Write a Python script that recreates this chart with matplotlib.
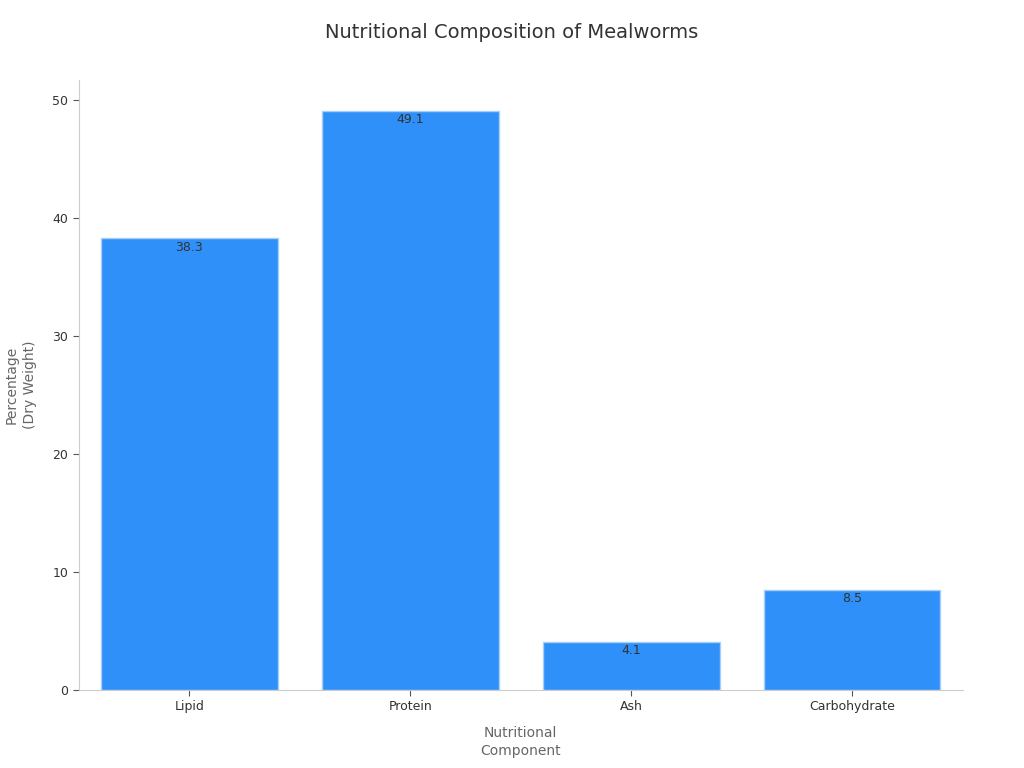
import matplotlib
matplotlib.use("Agg")
import matplotlib.pyplot as plt

# Données
composants = ["Lipid", "Protein", "Ash", "Carbohydrate"]
valeurs = [38.3, 49.1, 4.1, 8.5]

fig = plt.figure(figsize=(10.24, 7.68), dpi=100)
ax = fig.add_axes([0.077, 0.1016, 0.863, 0.7944])

barres = ax.bar(composants, valeurs, width=0.8, color="#2E90F8",
                edgecolor="#A9CFF8", linewidth=1)

# Valeurs dans le haut des barres
for b, v in zip(barres, valeurs):
    ax.annotate(f"{v}", (b.get_x() + b.get_width() / 2, v),
                xytext=(0, -2), textcoords="offset points",
                ha="center", va="top", fontsize=9, color="#333333")

ax.set_xlim(-0.5, 3.5)
ax.set_ylim(0, 51.7)
ax.set_yticks([0, 10, 20, 30, 40, 50])

for s in ["top", "right"]:
    ax.spines[s].set_visible(False)
for s in ["left", "bottom"]:
    ax.spines[s].set_color("#CCCCCC")

ax.tick_params(axis="both", labelsize=9, colors="#333333", length=4)
ax.tick_params(axis="both", color="#555555")

ax.set_xlabel("Nutritional\nComponent", fontsize=10, color="#666666",
              labelpad=9, linespacing=1.4)
ax.set_ylabel("Percentage\n(Dry Weight)", fontsize=10, color="#666666",
              labelpad=11, linespacing=1.4)
fig.suptitle("Nutritional Composition of Mealworms", fontsize=14, color="#333333", y=0.97)

fig.savefig("out.png", dpi=100)
